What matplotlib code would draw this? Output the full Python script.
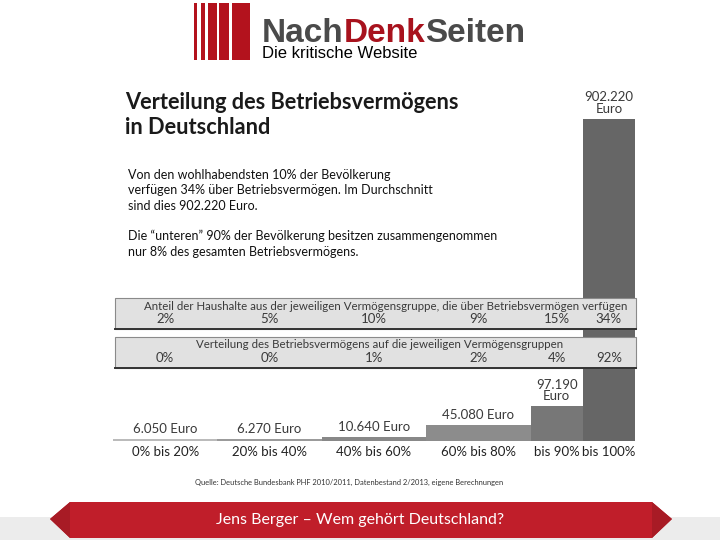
import matplotlib
matplotlib.use("Agg")
import matplotlib.pyplot as plt
from matplotlib.patches import Rectangle, Polygon
from matplotlib.transforms import blended_transform_factory

plt.rcParams['font.family'] = ['Lato', 'DejaVu Sans']

# data
groups = ['0% bis 20%', '20% bis 40%', '40% bis 60%', '60% bis 80%', 'bis 90%', 'bis 100%']
left_edges = [0, 20, 40, 60, 80, 90]
widths = [20, 20, 20, 20, 10, 10]
values = [6050, 6270, 10640, 45080, 97190, 902220]
value_labels = ['6.050 Euro', '6.270 Euro', '10.640 Euro', '45.080 Euro', '97.190\nEuro', '902.220\nEuro']
share_households = ['2%', '5%', '10%', '9%', '15%', '34%']
share_assets = ['0%', '0%', '1%', '2%', '4%', '92%']
bar_colors = ['#bbbbbb', '#9b9b9b', '#888888', '#8c8c8c', '#777777', '#666666']

fig = plt.figure(figsize=(7.2, 5.4), dpi=100)
fig.patch.set_facecolor('white')
renderer = fig.canvas.get_renderer()

# overlay in pixel coords for slide decoration
bg = fig.add_axes([0, 0, 1, 1], zorder=0)
bg.set_xlim(0, 720)
bg.set_ylim(540, 0)
bg.axis('off')

# logo
for x0, x1 in [(194.3, 197.3), (200.7, 204.7), (207.7, 216.7), (219, 229.3), (232.3, 250)]:
    bg.add_patch(Rectangle((x0, 3), x1 - x0, 57, fc='#b3121d', ec='none'))
x = 262
for part, col in [('Nach', '#4a4a4a'), ('Denk', '#a8121d'), ('Seiten', '#4a4a4a')]:
    t = bg.text(x, 42, part, color=col, fontsize=24, fontweight='bold',
                family='Liberation Sans', va='baseline', ha='left')
    ext = t.get_window_extent(renderer=renderer)
    x += ext.width
bg.text(262, 58.5, 'Die kritische Website', fontsize=12, family='Liberation Sans',
        color='black', va='baseline', ha='left')

# title and text
bg.text(125, 92, 'Verteilung des Betriebsvermögens\nin Deutschland', fontsize=15.7,
        fontweight='bold', color='#1a1a1a', va='top', ha='left', linespacing=1.25)
bg.text(128, 169, 'Von den wohlhabendsten 10% der Bevölkerung\n'
        'verfügen 34% über Betriebsvermögen. Im Durchschnitt\n'
        'sind dies 902.220 Euro.', fontsize=9, color='#111111', va='top', ha='left',
        linespacing=1.35)
bg.text(128, 230, 'Die \u201cunteren\u201d 90% der Bevölkerung besitzen zusammengenommen\n'
        'nur 8% des gesamten Betriebsvermögens.', fontsize=9, color='#111111',
        va='top', ha='left', linespacing=1.35)

# footer ribbon
bg.add_patch(Rectangle((0, 517), 720, 23, fc='#ececec', ec='none'))
bg.add_patch(Polygon([(50, 519), (70, 502), (652, 502), (672, 519), (652, 538), (70, 538)],
                     closed=True, fc='#c01e2a', ec='none'))
bg.add_patch(Polygon([(50, 519), (70, 502), (70, 538)], closed=True, fc='#a81b25', ec='none'))
bg.add_patch(Polygon([(672, 519), (652, 502), (652, 538)], closed=True, fc='#a81b25', ec='none'))
bg.text(360, 520, 'Jens Berger \u2013 Wem gehört Deutschland?', fontsize=11.5, color='white',
        ha='center', va='center')

# bar chart
base_px, top_px = 441, 80
ax = fig.add_axes([113 / 720, (540 - base_px) / 540, 522 / 720, (base_px - top_px) / 540], zorder=1)
ax.patch.set_alpha(0)
ymax = values[-1] * (base_px - top_px) / (base_px - 119)
ax.set_xlim(0, 100)
ax.set_ylim(0, ymax)
ax.axis('off')

ax.bar(left_edges, values, width=widths, align='edge', color=bar_colors, edgecolor='none')
centers = [l + w / 2 for l, w in zip(left_edges, widths)]
for c, v, lab in zip(centers, values, value_labels):
    ax.annotate(lab, (c, v), xytext=(0, 3), textcoords='offset points', ha='center',
                va='bottom', fontsize=9.5, color='#3a3a3a', linespacing=0.95)

tr = blended_transform_factory(ax.transData, bg.transData)
for c, g in zip(centers, groups):
    ax.text(c, 452, g, transform=tr, ha='center', va='center', fontsize=9.5,
            color='#222222', clip_on=False)

# info bands
bands = [(298, 'Anteil der Haushalte aus der jeweiligen Vermögensgruppe, die über Betriebsvermögen verfügen',
          share_households, 386),
         (337, 'Verteilung des Betriebsvermögens auf die jeweiligen Vermögensgruppen',
          share_assets, 380)]
for y0, header, vals, hx in bands:
    ax.add_patch(Rectangle((0.4, y0), 99.8, 31, transform=tr, fc='#e1e1e1', ec='#8a8a8a',
                           lw=0.8, zorder=5, clip_on=False))
    ax.plot([0.4, 100.2], [y0 + 31, y0 + 31], transform=tr, color='#333333', lw=1.4,
            zorder=6, clip_on=False)
    ax.text((hx - 113) / 5.22, y0 + 8, header, transform=tr, ha='center', va='center',
            fontsize=8.3, color='#3a3a3a', zorder=7, clip_on=False)
    for c, v in zip(centers, vals):
        ax.text(c, y0 + 21, v, transform=tr, ha='center', va='center', fontsize=9.5,
                color='#3a3a3a', zorder=7, clip_on=False)

bg.text(349, 482, 'Quelle: Deutsche Bundesbank PHF 2010/2011, Datenbestand 2/2013, eigene Berechnungen',
        fontsize=5.4, color='#333333', ha='center', va='center')

fig.savefig('out.png', dpi=100)
